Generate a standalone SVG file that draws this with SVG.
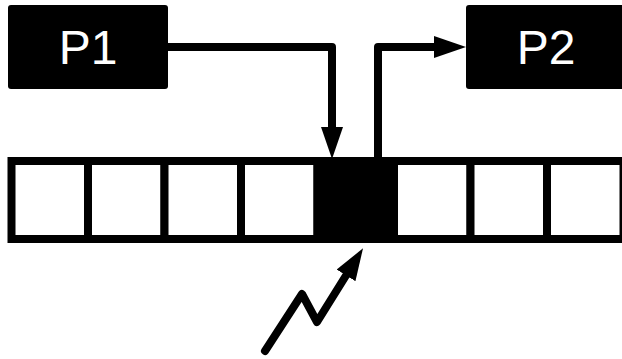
<svg xmlns="http://www.w3.org/2000/svg" width="622" height="359" viewBox="0 0 622 359">
  <style>
    .proc { fill: #000; }
    .label { fill: #fff; font-family: "Liberation Sans", Arial, sans-serif; font-size: 48px; text-anchor: middle; }
    .cell { fill: #fff; stroke: #000; stroke-width: 8; }
    .cell.busy { fill: #000; }
    .wire { fill: none; stroke: #000; stroke-width: 8; stroke-linejoin: round; marker-end: url(#head); }
    .bolt { fill: none; stroke: #000; stroke-width: 8; stroke-linejoin: round; stroke-linecap: round; marker-end: url(#head); }
  </style>
  <defs>
    <marker id="head" markerUnits="userSpaceOnUse" markerWidth="32" markerHeight="22" refX="14" refY="11" orient="auto" viewBox="0 0 32 22">
      <path d="M0,0 L32,11 L0,22 z" fill="#000"/>
    </marker>
  </defs>

  <rect width="622" height="359" fill="#fff"/>

  <g id="p1">
    <rect class="proc" x="8" y="5" width="160" height="84" rx="3"/>
    <text class="label" x="88" y="64">P1</text>
  </g>

  <g id="p2">
    <rect class="proc" x="466" y="5" width="160" height="84" rx="3"/>
    <text class="label" x="546" y="64">P2</text>
  </g>

  <g id="buffer">
    <rect class="cell" x="11.5" y="161" width="76.5" height="78"/>
    <rect class="cell" x="88" y="161" width="76.5" height="78"/>
    <rect class="cell" x="164.5" y="161" width="76.5" height="78"/>
    <rect class="cell" x="241" y="161" width="76.5" height="78"/>
    <rect class="cell busy" x="317.5" y="161" width="76.5" height="78"/>
    <rect class="cell" x="394" y="161" width="76.5" height="78"/>
    <rect class="cell" x="470.5" y="161" width="76.5" height="78"/>
    <rect class="cell" x="547" y="161" width="76.5" height="78"/>
  </g>

  <g id="connectors">
    <path class="wire" d="M168,47 H332 V141"/>
    <path class="wire" d="M378,158 V47 H448"/>
    <path class="bolt" d="M265,351 L302,294 L317,322 L353.5,263.5"/>
  </g>
</svg>
